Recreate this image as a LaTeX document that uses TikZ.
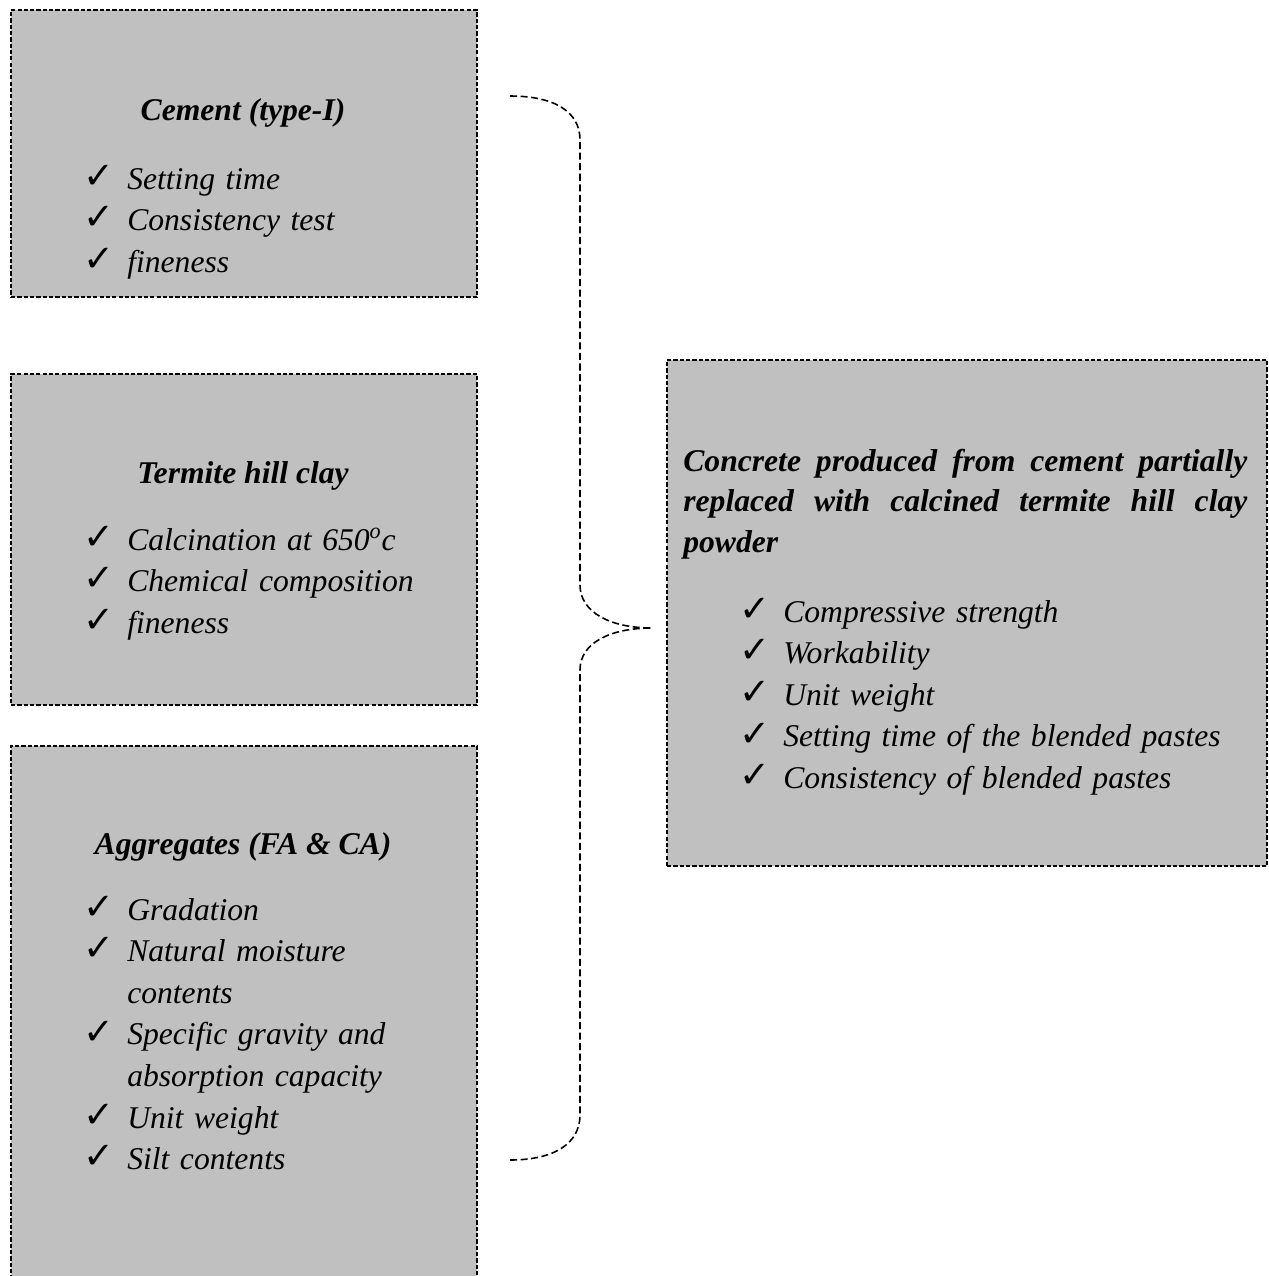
\documentclass[tikz,border=0pt]{standalone}
\usepackage{fontspec}
\setmainfont{Liberation Serif}
\newfontfamily\checkfont{DejaVu Sans}
\usepackage{tikz}
\definecolor{boxgray}{RGB}{192,192,192}
\tikzstyle{testbox} = [rectangle, draw=black, fill=boxgray, line width=0.8pt, dash pattern=on 2.4pt off 1.2pt, inner sep=0pt]
\tikzstyle{title} = [inner sep=0pt, anchor=base, font=\fontsize{18}{23.7}\selectfont\bfseries\itshape]
\tikzstyle{checklist} = [inner sep=0pt, anchor=base west, text width=290pt, align=left, font=\fontsize{18}{23.7}\selectfont\itshape]
\tikzstyle{brace} = [line width=0.9pt, dash pattern=on 4pt off 2pt]
\newcommand{\chk}{\makebox[25pt][l]{\raisebox{0.5pt}{\checkfont\upshape\mdseries\fontsize{21}{21}\selectfont ✓}}}

\begin{document}
\begin{tikzpicture}[x=0.02cm, y=-0.02cm]
	\clip (0,0) rectangle (1269,1276);

	% material boxes
	\node (cement) [testbox, minimum width=9.32cm, minimum height=5.74cm] at (244,153.5) {};
	\node (clay) [testbox, minimum width=9.32cm, minimum height=6.62cm] at (244,539.5) {};
	\node (agg) [testbox, minimum width=9.32cm, minimum height=10.88cm] at (244,1018) {};
	\node (concrete) [testbox, minimum width=12cm, minimum height=10.12cm] at (967,613) {};

	% cement
	\node (cementhd) [title] at (243,120) {Cement (type-I)};
	\node (cementls) [checklist] at (83,189) {\chk Setting time\\ \chk Consistency test\\ \chk fineness};

	% termite hill clay
	\node (clayhd) [title] at (243,483) {Termite hill clay};
	\node (clayls) [checklist] at (83,550) {\chk Calcination at 650\textsuperscript{o}c\\ \chk Chemical composition\\ \chk fineness};

	% aggregates
	\node (agghd) [title] at (243,854) {Aggregates (FA \& CA)};
	\node (aggls) [checklist] at (83,920) {\chk Gradation\\ \chk Natural moisture\\ \hspace*{25pt}contents\\ \chk Specific gravity and\\ \hspace*{25pt}absorption capacity\\ \chk Unit weight\\ \chk Silt contents};

	% concrete
	\node (concretehd) [checklist, text width=321pt, font=\fontsize{18}{23.3}\selectfont\bfseries\itshape] at (683,471) {\makebox[321pt]{Concrete\hfill produced\hfill from\hfill cement\hfill partially}\\ \makebox[321pt]{replaced\hfill with\hfill calcined\hfill termite\hfill hill\hfill clay}\\ powder};
	\node (concretels) [checklist] at (739,622) {\chk Compressive strength\\ \chk Workability\\ \chk Unit weight\\ \chk Setting time of the blended pastes\\ \chk Consistency of blended pastes};

	% brace
	\coordinate (bracetop) at (510,96);
	\coordinate (bracetip) at (652,628);
	\coordinate (bracebot) at (510,1160);
	\draw [brace] (bracetop) .. controls (555,96) and (580,112) .. (580,140) -- (580,585) .. controls (580,612) and (610,628) .. (bracetip) .. controls (610,628) and (580,643) .. (580,670) -- (580,1115) .. controls (580,1143) and (555,1160) .. (bracebot);

\end{tikzpicture}
\end{document}
